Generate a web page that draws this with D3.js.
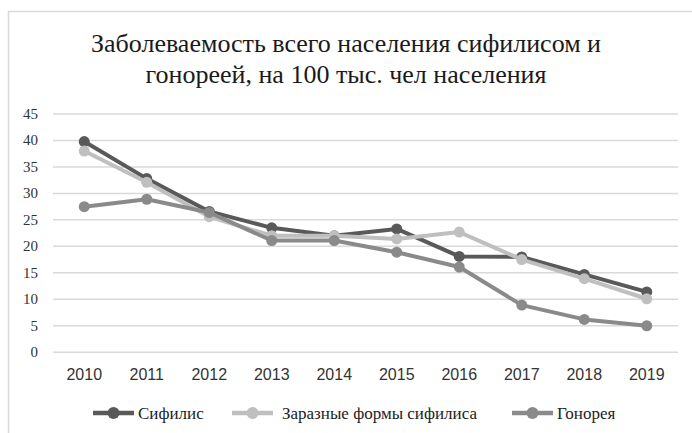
<!DOCTYPE html>
<html>
<head>
<meta charset="utf-8">
<script src="https://cdn.jsdelivr.net/npm/d3@7"></script>
<style>
  body { margin: 0; background: #fff; }
  svg { display: block; }
</style>
</head>
<body>
<div id="figure"><svg></svg></div>
<script>
// Chart data
var years = ["2010", "2011", "2012", "2013", "2014", "2015", "2016", "2017", "2018", "2019"];
var syphilis = [39.7, 32.7, 26.5, 23.4, 21.9, 23.2, 18.0, 17.9, 14.6, 11.3];
var contagious = [37.9, 32.0, 25.5, 21.9, 21.9, 21.3, 22.6, 17.4, 13.8, 10.0];
var gonorrhea = [27.4, 28.8, 26.3, 21.0, 21.0, 18.8, 16.0, 8.8, 6.1, 4.9];
var seriesNames = ["Сифилис", "Заразные формы сифилиса", "Гонорея"];
var yTicks = [0, 5, 10, 15, 20, 25, 30, 35, 40, 45];
var titleLines = ["Заболеваемость всего населения сифилисом и", "гонореей, на 100 тыс. чел населения"];

// Styles
var colors = ["#595959", "#bfbfbf", "#8a8a8a"];
var width = 692, height = 433;
var serif = "Liberation Serif";
var sans = "Liberation Sans";

var svg = d3.select("#figure").select("svg")
  .attr("width", width).attr("height", height)
  .attr("font-family", serif);

// chart frame (only top and left edges are visible)
svg.append("path")
  .attr("d", "M8.5," + height + "V11.5H" + width)
  .attr("fill", "none").attr("stroke", "#d9d9d9").attr("stroke-width", 1.5);

// title
svg.append("g").selectAll("text").data(titleLines).enter()
  .append("text")
  .attr("x", 346).attr("y", function (d, i) { return 52 + i * 31; })
  .attr("text-anchor", "middle")
  .attr("font-family", serif)
  .attr("font-size", 26).attr("fill", "#1a1a1a")
  .text(function (d) { return d; });

// scales
var x = d3.scaleBand().domain(years).range([53, 678]);
var y = d3.scaleLinear().domain([0, 45]).range([351.7, 113.5]);

// gridlines + y labels
var yAxis = d3.axisLeft(y).tickValues(yTicks).tickSize(-(678 - 53)).tickPadding(15);
var gy = svg.append("g").attr("transform", "translate(53,0)").call(yAxis)
  .attr("font-family", serif);
gy.select(".domain").remove();
gy.selectAll(".tick line").attr("stroke", "#d9d9d9").attr("stroke-width", 1.5);
gy.selectAll(".tick text").attr("font-family", serif)
  .attr("font-size", 15).attr("fill", "#333");

// x labels
var xAxis = d3.axisBottom(x).tickSize(0).tickPadding(17);
var gx = svg.append("g").attr("transform", "translate(0,351.7)").call(xAxis)
  .attr("font-family", sans);
gx.select(".domain").remove();
gx.selectAll(".tick text").attr("font-family", sans).attr("font-size", 16).attr("fill", "#333");

// series
var series = [syphilis, contagious, gonorrhea];
var line = d3.line()
  .x(function (d, i) { return x(years[i]) + x.bandwidth() / 2; })
  .y(function (d) { return y(d); });

var gs = svg.append("g").selectAll("g").data(series).enter().append("g");
gs.append("path")
  .attr("d", function (d) { return line(d); })
  .attr("fill", "none")
  .attr("stroke", function (d, i) { return colors[i]; })
  .attr("stroke-width", 4).attr("stroke-linejoin", "round");
gs.each(function (d, i) {
  d3.select(this).selectAll("circle").data(d).enter()
    .append("circle")
    .attr("cx", function (v, j) { return x(years[j]) + x.bandwidth() / 2; })
    .attr("cy", function (v) { return y(v); })
    .attr("r", 5.5)
    .attr("fill", colors[i]);
});

// legend
var legendX = [93, 232, 512];
var lg = svg.append("g").selectAll("g").data(seriesNames).enter().append("g")
  .attr("transform", function (d, i) { return "translate(" + legendX[i] + ",413)"; });
lg.append("line")
  .attr("x1", 0).attr("x2", 41).attr("y1", 0).attr("y2", 0)
  .attr("stroke", function (d, i) { return colors[i]; }).attr("stroke-width", 4.5);
lg.append("circle")
  .attr("cx", 20.5).attr("cy", 0).attr("r", 6)
  .attr("fill", function (d, i) { return colors[i]; });
lg.append("text")
  .attr("x", function (d, i) { return i == 1 ? 50 : 45; }).attr("y", 6)
  .attr("font-family", serif)
  .attr("font-size", 17).attr("fill", "#222")
  .text(function (d) { return d; });
</script>
</body>
</html>
